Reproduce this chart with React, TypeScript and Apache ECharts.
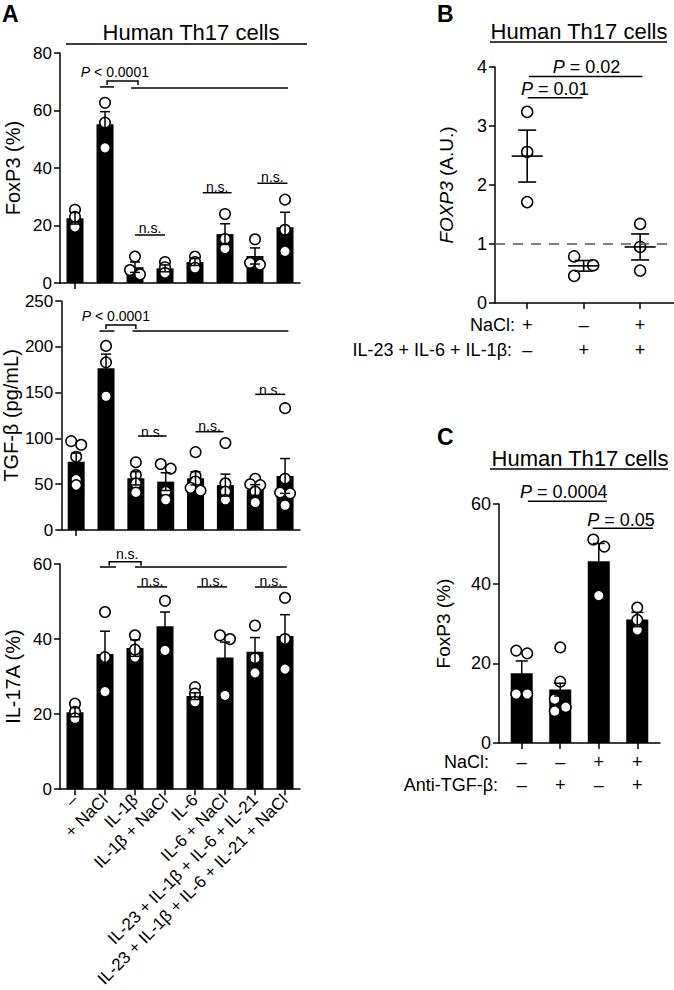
import React, { useEffect, useRef } from "react";
import * as echarts from "echarts";

const FONT = "'Liberation Sans', Arial, Helvetica, sans-serif";
const BLACK = "#000";

// ---------- Panel A data ----------
const A_CATEGORIES = [
  "–",
  "+ NaCl",
  "IL-1β",
  "IL-1β + NaCl",
  "IL-6",
  "IL-6 + NaCl",
  "IL-23 + IL-1β + IL-6 + IL-21",
  "IL-23 + IL-1β + IL-6 + IL-21 + NaCl",
];
const FOXP3_MEAN = [22.5, 55.2, 5.5, 5.1, 7.3, 17.0, 9.4, 19.4];
const FOXP3_SEM = [2.0, 4.4, 1.8, 1.2, 1.2, 3.6, 2.8, 5.2];
const FOXP3_POINTS = [
  [25.5, 23, 19.5],
  [62.7, 55.8, 47],
  [9.2, 4.5, 3],
  [7.3, 5.5, 3.5],
  [9.2, 7.3, 5.3],
  [24, 15.3, 12],
  [15.2, 6.4, 7.0],
  [29, 18.5, 11],
];

const TGF_MEAN = [74.6, 176.6, 56.4, 52.8, 56.4, 49, 43.7, 59];
const TGF_SEM = [9.4, 15.4, 7.2, 9.7, 7.2, 12, 5.8, 19];
const TGF_POINTS = [
  [97, 93, 80, 55, 49],
  [201, 183, 146],
  [74, 60, 51, 41],
  [72, 67, 42, 33],
  [85, 59, 53, 46, 43],
  [95, 51, 42, 33],
  [56, 50, 49, 42, 30],
  [133, 56, 41, 40, 27],
];

const IL17_MEAN = [20.5, 36, 37.6, 43.4, 24.8, 35.1, 36.6, 40.8];
const IL17_SEM = [1.2, 6.1, 2.2, 3.8, 0.9, 4.1, 3.8, 5.7];
const IL17_POINTS = [
  [22.8, 20.6, 18.9],
  [47.2, 35.2, 26],
  [41, 35.2, 37.2],
  [50.2, 37],
  [27.2, 25.5, 23.3],
  [41, 40, 25],
  [43.6, 34.9, 31],
  [51, 40, 32],
];

// ---------- Panel B data ----------
const B_GROUPS = [1, 2, 3];
const B_NACL = ["+", "–", "+"];
const B_CYTOKINES = ["–", "+", "+"];
const B_POINTS = [
  [3.24, 2.56, 1.71],
  [0.79, 0.64, 0.46],
  [1.34, 0.95, 0.55],
];
const B_MEAN = [2.49, 0.63, 0.95];
const B_SEM = [0.44, 0.09, 0.22];
const B_BASELINE = 1;

// ---------- Panel C data ----------
const C_GROUPS = [1, 2, 3, 4];
const C_NACL = ["–", "–", "+", "+"];
const C_ANTI_TGF = ["–", "+", "–", "+"];
const C_MEAN = [17.5, 13.4, 45.6, 31.0];
const C_SEM = [3.1, 1.6, 4.5, 1.8];
const C_POINTS = [
  [23.2, 22.5, 12.3, 12.3],
  [24, 15.4, 11, 9, 8],
  [51.1, 49.3, 37],
  [34, 30.9, 28.4],
];

// ---------- significance annotations (data units) ----------
type Sig = {
  text: string;
  tx: number;
  ty: number;
  lines: [number, number, number][];
  bracket?: [number, number, number];
};
const A1_SIG: Sig[] = [
  { text: "{i|P} < 0.0001", tx: 1.33, ty: 73.4, lines: [[0.83, 1.3, 68.2], [1.87, 7.1, 67.8]], bracket: [1.07, 2.1, 70.3] },
  { text: "n.s.", tx: 2.5, ty: 19.2, lines: [[2.0, 3.0, 16.7]] },
  { text: "n.s.", tx: 4.74, ty: 33.5, lines: [[4.26, 5.22, 31.4]] },
  { text: "n.s.", tx: 6.58, ty: 36.8, lines: [[6.08, 7.08, 34.7]] },
];
const A2_SIG: Sig[] = [
  { text: "{i|P} < 0.0001", tx: 1.33, ty: 233.6, lines: [[0.78, 1.28, 217.2], [1.89, 7.11, 217.2]], bracket: [1.0, 2.0, 223.8] },
  { text: "n.s.", tx: 2.55, ty: 107.5, lines: [[2.07, 3.03, 102.6]] },
  { text: "n.s.", tx: 4.47, ty: 113, lines: [[4.0, 4.94, 107.3]] },
  { text: "n.s.", tx: 6.5, ty: 153, lines: [[6.0, 7.0, 148.1]] },
];
const A3_SIG: Sig[] = [
  { text: "n.s.", tx: 1.74, ty: 62.6, lines: [[0.83, 1.37, 59.2], [2.0, 7.06, 59.2]], bracket: [1.14, 2.2, 60.6] },
  { text: "n.s.", tx: 2.57, ty: 55.6, lines: [[2.07, 3.07, 53.9]] },
  { text: "n.s.", tx: 4.57, ty: 55.6, lines: [[4.07, 5.07, 53.9]] },
  { text: "n.s.", tx: 6.53, ty: 55.6, lines: [[6.0, 7.07, 53.9]] },
];
const B_SIG: Sig[] = [
  { text: "{i|P} = 0.02", tx: 2.05, ty: 4.0, lines: [[1.03, 3.04, 3.84]] },
  { text: "{i|P} = 0.01", tx: 1.49, ty: 3.63, lines: [[1.01, 1.98, 3.48]] },
];
const C_SIG: Sig[] = [
  { text: "{i|P} = 0.0004", tx: 2.09, ty: 63.1, lines: [[1.16, 3.21, 60.7]] },
  { text: "{i|P} = 0.05", tx: 3.58, ty: 56.1, lines: [[2.84, 4.41, 53.9]] },
];

// ---------- layout ----------
const GRIDS = [
  { left: 60, top: 53, width: 240, height: 230 },
  { left: 60, top: 301, width: 240, height: 229 },
  { left: 60, top: 564, width: 240, height: 228 },
  { left: 495, top: 67, width: 179, height: 236 },
  { left: 499, top: 504, width: 161, height: 239 },
];
const Y_MAX = [80, 250, 60, 4, 60];

function swarm(values: number[], pxPerUnit: number, threshold: number, amp: number): number[] {
  const order = values.map((_, i) => i).sort((a, b) => values[b] - values[a]);
  const offsets = new Array(values.length).fill(0);
  let cluster: number[] = [];
  const flush = () => {
    if (cluster.length > 1) cluster.forEach((id, k) => (offsets[id] = k % 2 === 0 ? -amp : amp));
    cluster = [];
  };
  order.forEach((id) => {
    if (cluster.length && (values[cluster[cluster.length - 1]] - values[id]) * pxPerUnit >= threshold) flush();
    cluster.push(id);
  });
  flush();
  return offsets;
}

function pointData(groups: number[][], xs: number[], gi: number, threshold: number, amp: number) {
  const ppu = GRIDS[gi].height / Y_MAX[gi];
  const out: any[] = [];
  groups.forEach((vals, g) => {
    const offs = swarm(vals, ppu, threshold, amp);
    vals.forEach((v, k) => out.push({ value: [xs[g], v], symbolOffset: [offs[k], 0] }));
  });
  return out;
}

const axisLine = { show: true, onZero: false, lineStyle: { color: BLACK, width: 1.5 } };
const tickStyle = { color: BLACK, width: 1.5 };

function yAxis(gi: number, interval: number, name: string, nameGap: number, fontSize: number, nameSize: number) {
  return {
    type: "value",
    gridIndex: gi,
    min: 0,
    max: Y_MAX[gi],
    interval,
    name,
    nameLocation: "middle",
    nameGap,
    nameTextStyle: {
      fontSize: nameSize,
      color: BLACK,
      fontFamily: FONT,
      rich: { i: { fontStyle: "italic", fontSize: nameSize, color: BLACK, fontFamily: FONT } },
    },
    axisLine,
    axisTick: { show: true, length: 6, lineStyle: tickStyle },
    axisLabel: { fontSize, color: BLACK, fontFamily: FONT, margin: 8 },
    splitLine: { show: false },
  };
}

function catAxis(gi: number, showLabels: boolean) {
  return {
    type: "category",
    gridIndex: gi,
    data: A_CATEGORIES,
    boundaryGap: true,
    axisLine,
    axisTick: { show: true, alignWithLabel: true, length: 6, lineStyle: tickStyle },
    axisLabel: showLabels
      ? { show: true, rotate: 45, interval: 0, fontSize: 17, color: BLACK, fontFamily: FONT, margin: 8 }
      : { show: false },
    splitLine: { show: false },
  };
}

function errorSeries(gi: number, xs: number[], mean: number[], sem: number[], cap: number) {
  return {
    type: "custom",
    xAxisIndex: gi,
    yAxisIndex: gi,
    z: 4,
    silent: true,
    data: xs.map((x, i) => [x, mean[i], sem[i]]),
    encode: { x: 0, y: 1 },
    renderItem: (params: any, api: any) => {
      const x = api.value(0), m = api.value(1), s = api.value(2);
      const t = api.coord([x, m + s]);
      const b = api.coord([x, m - s]);
      const st = { stroke: BLACK, lineWidth: 1.5 };
      return {
        type: "group",
        children: [
          { type: "line", shape: { x1: t[0], y1: b[1], x2: t[0], y2: t[1] }, style: st },
          { type: "line", shape: { x1: t[0] - cap, y1: t[1], x2: t[0] + cap, y2: t[1] }, style: st },
          { type: "line", shape: { x1: t[0] - cap, y1: b[1], x2: t[0] + cap, y2: b[1] }, style: st },
        ],
      };
    },
  };
}

function sigSeries(gi: number, sigs: Sig[], fontSize: number) {
  return {
    type: "custom",
    xAxisIndex: gi,
    yAxisIndex: gi,
    z: 5,
    silent: true,
    clip: false,
    data: sigs.map((_, i) => [gi >= 3 ? 1 : 0, 0, i]),
    renderItem: (params: any, api: any) => {
      const s = sigs[params.dataIndex];
      const px = (x: number, y: number) => {
        const c0 = api.coord([gi >= 3 ? 1 : 0, y]);
        const c1 = api.coord([gi >= 3 ? 2 : 1, y]);
        const base = gi >= 3 ? 1 : 0;
        return [c0[0] + (c1[0] - c0[0]) * (x - base), c0[1]];
      };
      const st = { stroke: BLACK, lineWidth: 1.5 };
      const children: any[] = [];
      s.lines.forEach(([x1, x2, y]) => {
        const p1 = px(x1, y), p2 = px(x2, y);
        children.push({ type: "line", shape: { x1: p1[0], y1: p1[1], x2: p2[0], y2: p2[1] }, style: st });
      });
      if (s.bracket) {
        const [x1, x2, y] = s.bracket;
        const p1 = px(x1, y), p2 = px(x2, y);
        children.push({
          type: "polyline",
          shape: { points: [[p1[0], p1[1] + 4], [p1[0], p1[1]], [p2[0], p2[1]], [p2[0], p2[1] + 4]] },
          style: { ...st, fill: "none" },
        });
      }
      const t = px(s.tx, s.ty);
      children.push({
        type: "text",
        x: t[0],
        y: t[1],
        style: {
          text: s.text,
          fontSize,
          fontFamily: FONT,
          fill: BLACK,
          align: "center",
          verticalAlign: "middle",
          rich: { i: { fontStyle: "italic", fontSize, fontFamily: FONT, fill: BLACK } },
        },
      });
      return { type: "group", children };
    },
  };
}

const pointStyle = { color: "#fff", borderColor: BLACK, borderWidth: 1.5, opacity: 1 };

function buildOption() {
  const aIdx = A_CATEGORIES.map((_, i) => i);
  const aPanels = [
    { mean: FOXP3_MEAN, sem: FOXP3_SEM, pts: FOXP3_POINTS, sig: A1_SIG },
    { mean: TGF_MEAN, sem: TGF_SEM, pts: TGF_POINTS, sig: A2_SIG },
    { mean: IL17_MEAN, sem: IL17_SEM, pts: IL17_POINTS, sig: A3_SIG },
  ];
  const series: any[] = [];
  aPanels.forEach((p, gi) => {
    series.push({ type: "bar", xAxisIndex: gi, yAxisIndex: gi, data: p.mean, barWidth: 17, itemStyle: { color: BLACK }, z: 2, silent: true });
    series.push({ type: "scatter", xAxisIndex: gi, yAxisIndex: gi, data: pointData(p.pts, aIdx, gi, 5, 5), symbol: "circle", symbolSize: 10.5, itemStyle: pointStyle, z: 3, silent: true });
    series.push(errorSeries(gi, aIdx, p.mean, p.sem, 5));
    series.push(sigSeries(gi, p.sig, 14));
  });

  // Panel B
  series.push({
    type: "scatter",
    xAxisIndex: 3,
    yAxisIndex: 3,
    data: pointData(B_POINTS, B_GROUPS, 3, 11, 9.5),
    symbol: "circle",
    symbolSize: 11,
    itemStyle: pointStyle,
    z: 3,
    silent: true,
    markLine: {
      silent: true,
      symbol: "none",
      label: { show: false },
      lineStyle: { type: [10, 8], color: "#555", width: 1.5, opacity: 1 },
      data: [{ yAxis: B_BASELINE }],
    },
  });
  series.push({
    type: "custom",
    xAxisIndex: 3,
    yAxisIndex: 3,
    z: 4,
    silent: true,
    data: B_GROUPS.map((x, i) => [x, B_MEAN[i], B_SEM[i]]),
    encode: { x: 0, y: 1 },
    renderItem: (params: any, api: any) => {
      const x = api.value(0), m = api.value(1), s = api.value(2);
      const c = api.coord([x, m]);
      const t = api.coord([x, m + s]);
      const b = api.coord([x, m - s]);
      const st = { stroke: BLACK, lineWidth: 1.6 };
      return {
        type: "group",
        children: [
          { type: "line", shape: { x1: c[0] - 15.5, y1: c[1], x2: c[0] + 15.5, y2: c[1] }, style: st },
          { type: "line", shape: { x1: c[0], y1: t[1], x2: c[0], y2: b[1] }, style: st },
          { type: "line", shape: { x1: c[0] - 9, y1: t[1], x2: c[0] + 9, y2: t[1] }, style: st },
          { type: "line", shape: { x1: c[0] - 9, y1: b[1], x2: c[0] + 9, y2: b[1] }, style: st },
        ],
      };
    },
  });
  series.push(sigSeries(3, B_SIG, 18));

  // Panel C
  series.push({ type: "bar", xAxisIndex: 4, yAxisIndex: 4, data: C_GROUPS.map((x, i) => [x, C_MEAN[i]]), barWidth: 22, itemStyle: { color: BLACK }, z: 2, silent: true });
  series.push({ type: "scatter", xAxisIndex: 4, yAxisIndex: 4, data: pointData(C_POINTS, C_GROUPS, 4, 8, 5.5), symbol: "circle", symbolSize: 10.5, itemStyle: pointStyle, z: 3, silent: true });
  series.push(errorSeries(4, C_GROUPS, C_MEAN, C_SEM, 6));
  series.push(sigSeries(4, C_SIG, 18));

  const text = (t: string, x: number, y: number, size: number, align: string, extra: any = {}) => ({
    type: "text",
    x,
    y,
    silent: true,
    style: { text: t, fontSize: size, fontFamily: FONT, fill: BLACK, align, verticalAlign: "middle", ...extra },
  });
  const hline = (x1: number, x2: number, y: number) => ({
    type: "line",
    silent: true,
    shape: { x1, y1: y, x2, y2: y },
    style: { stroke: BLACK, lineWidth: 1.5 },
  });

  return {
    animation: false,
    textStyle: { fontFamily: FONT },
    grid: GRIDS.map((g) => ({ ...g, containLabel: false })),
    xAxis: [
      catAxis(0, false),
      catAxis(1, false),
      catAxis(2, true),
      {
        type: "value",
        gridIndex: 3,
        min: 0.43,
        max: 3.6,
        axisLine,
        splitLine: { show: false },
        axisTick: { show: true, length: 6, lineStyle: tickStyle, customValues: B_GROUPS },
        axisLabel: {
          customValues: B_GROUPS,
          formatter: (v: number) => `${B_NACL[Math.round(v) - 1]}\n${B_CYTOKINES[Math.round(v) - 1]}`,
          fontSize: 18,
          lineHeight: 25,
          color: BLACK,
          fontFamily: FONT,
          margin: 9,
        },
      },
      {
        type: "value",
        gridIndex: 4,
        min: 0.41,
        max: 4.59,
        axisLine,
        splitLine: { show: false },
        axisTick: { show: true, length: 6, lineStyle: tickStyle, customValues: C_GROUPS },
        axisLabel: {
          customValues: C_GROUPS,
          formatter: (v: number) => `${C_NACL[Math.round(v) - 1]}\n${C_ANTI_TGF[Math.round(v) - 1]}`,
          fontSize: 18,
          lineHeight: 23.5,
          color: BLACK,
          fontFamily: FONT,
          margin: 7,
        },
      },
    ],
    yAxis: [
      yAxis(0, 20, "FoxP3 (%)", 37, 17, 20),
      yAxis(1, 50, "TGF-β (pg/mL)", 37, 17, 20),
      yAxis(2, 20, "IL-17A (%)", 37, 17, 20),
      yAxis(3, 1, "{i|FOXP3} (A.U.)", 39, 18, 19),
      yAxis(4, 20, "FoxP3 (%)", 46, 18, 19),
    ],
    series,
    graphic: [
      text("A", 2, 14, 23, "left", { fontWeight: "bold" }),
      text("B", 437, 14, 23, "left", { fontWeight: "bold" }),
      text("C", 437, 437, 23, "left", { fontWeight: "bold" }),
      text("Human Th17 cells", 191, 32, 22, "center"),
      hline(66, 307, 44),
      text("Human Th17 cells", 579, 31, 22, "center"),
      hline(490, 667, 42),
      text("Human Th17 cells", 580, 458, 22, "center"),
      hline(490, 668, 469),
      text("NaCl:", 515, 325, 18, "right"),
      text("IL-23 + IL-6 + IL-1β:", 512, 350, 18, "right"),
      text("NaCl:", 489, 762, 18, "right"),
      text("Anti-TGF-β:", 498, 785, 18, "right"),
    ],
  };
}

export default function App() {
  const ref = useRef<HTMLDivElement>(null);
  useEffect(() => {
    document.body.style.margin = "0";
    const chart = echarts.init(ref.current as HTMLDivElement, null, { renderer: "svg" });
    chart.setOption(buildOption() as any);
    return () => chart.dispose();
  }, []);
  return <div ref={ref} style={{ width: 674, height: 990 }} />;
}
